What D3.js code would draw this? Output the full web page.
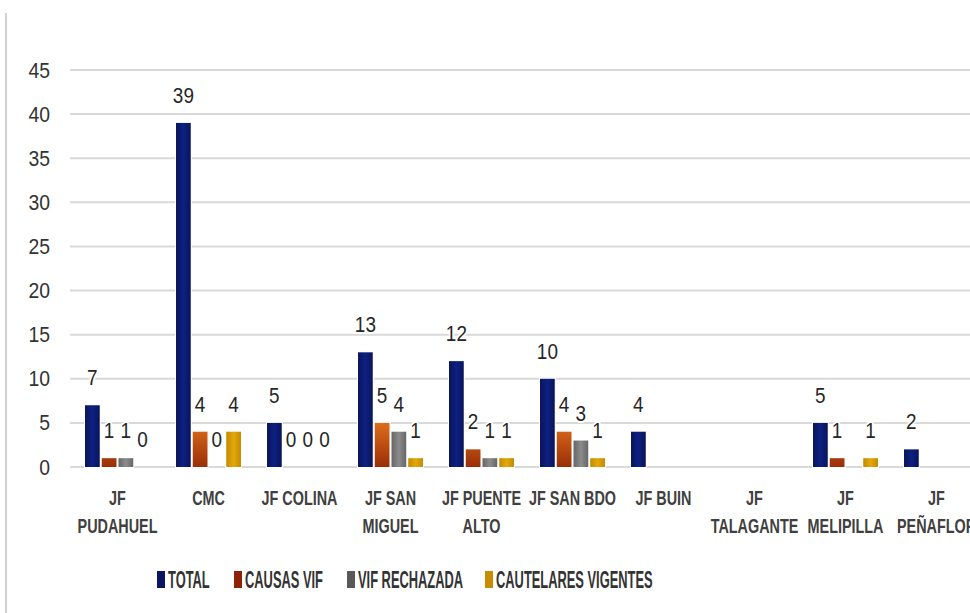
<!DOCTYPE html>
<html>
<head>
<meta charset="utf-8">
<script src="https://cdn.jsdelivr.net/npm/d3@7"></script>
<style>
  body { margin: 0; background: #fff; }
  svg { display: block; }
</style>
</head>
<body>
<script>
// categories (the last one is cut off by the frame on the right)
const categories = ["JF PUDAHUEL", "CMC", "JF COLINA", "JF SAN MIGUEL", "JF PUENTE ALTO",
  "JF SAN BDO", "JF BUIN", "JF TALAGANTE", "JF MELIPILLA", "JF PEÑAFLOR"];
// how each category label wraps
const categoryLines = [["JF", "PUDAHUEL"], ["CMC"], ["JF COLINA"], ["JF SAN", "MIGUEL"], ["JF PUENTE", "ALTO"],
  ["JF SAN BDO"], ["JF BUIN"], ["JF", "TALAGANTE"], ["JF", "MELIPILLA"], ["JF", "PEÑAFLOR"]];

const seriesNames = ["TOTAL", "CAUSAS VIF", "VIF RECHAZADA", "CAUTELARES VIGENTES"];
const total       = [7, 39, 5, 13, 12, 10, 4, null, 5, 2];
const causasVif   = [1, 4, 0, 5, 2, 4, null, null, 1, null];
const vifRechazada= [1, 0, 0, 4, 1, 3, null, null, null, null];
const cautelares  = [0, 4, 0, 1, 1, 1, null, null, 1, null];
const yTicks = [0, 5, 10, 15, 20, 25, 30, 35, 40, 45];

const seriesValues = [total, causasVif, vifRechazada, cautelares];
const fills = ["url(#gTotal)", "url(#gCausas)", "url(#gRech)", "url(#gCaut)"];
const legendColors = ["#0c1660", "#8e2208", "#595959", "#c98c00"];

const width = 970, height = 613;
const font = "'Liberation Sans', Arial, sans-serif";
const svg = d3.select("body").append("svg")
    .attr("width", width)
    .attr("height", height)
    .style("font-family", font);

// gradients, a bit like the office style bars
const defs = svg.append("defs");
function hGrad(id, edge, mid) {
  const g = defs.append("linearGradient").attr("id", id)
      .attr("x1", 0).attr("x2", 1).attr("y1", 0).attr("y2", 0);
  g.append("stop").attr("offset", "0%").attr("stop-color", edge);
  g.append("stop").attr("offset", "50%").attr("stop-color", mid);
  g.append("stop").attr("offset", "100%").attr("stop-color", edge);
}
hGrad("gTotal", "#0a1458", "#0d2183");
hGrad("gRech", "#666", "#8c8c8c");
hGrad("gCaut", "#c48a00", "#e2a80a");
const gc = defs.append("linearGradient").attr("id", "gCausas")
    .attr("gradientUnits", "userSpaceOnUse")
    .attr("x1", 0).attr("x2", 0).attr("y1", 420).attr("y2", 467);
gc.append("stop").attr("offset", "0%").attr("stop-color", "#e2721c");
gc.append("stop").attr("offset", "100%").attr("stop-color", "#9a2e08");

// frame line on the left
svg.append("line")
    .attr("x1", 6).attr("x2", 6).attr("y1", 13).attr("y2", height)
    .attr("stroke", "#d0d0d0").attr("stroke-width", 2);

const y = d3.scaleLinear().domain([0, 45]).range([467, 70]);
const x0 = d3.scaleBand().domain(categories).range([72, 982])
    .paddingInner(0.286).paddingOuter(0.143);
const x1 = d3.scaleBand().domain(seriesNames).range([0, x0.bandwidth()]).paddingInner(0.12);

// gridlines
svg.append("g")
  .selectAll("line")
  .data(yTicks)
  .join("line")
    .attr("x1", 70).attr("x2", width)
    .attr("y1", d => y(d)).attr("y2", d => y(d))
    .attr("stroke", "#d9d9d9")
    .attr("stroke-width", 2);

// y axis labels (the font in the picture is condensed, so squeeze it)
const yAxis = svg.append("g")
    .attr("transform", "translate(50,0)")
    .call(d3.axisLeft(y).tickValues(yTicks).tickSize(0).tickPadding(0));
yAxis.select(".domain").remove();
yAxis.selectAll("text")
    .attr("font-size", 22)
    .attr("font-family", font)
    .attr("fill", "#333")
    .attr("transform", "scale(0.88,1)");

// bars
const rows = [];
categories.forEach((c, i) => {
  seriesNames.forEach((s, j) => {
    const v = seriesValues[j][i];
    if (v !== null) rows.push({ cat: c, series: s, j, value: v });
  });
});

svg.append("g")
  .selectAll("rect")
  .data(rows.filter(d => d.value > 0))
  .join("rect")
    .attr("x", d => x0(d.cat) + x1(d.series))
    .attr("y", d => y(d.value))
    .attr("width", x1.bandwidth())
    .attr("height", d => y(0) - y(d.value))
    .attr("fill", d => fills[d.j])
    .attr("stroke", "#fff")
    .attr("stroke-width", 2)
    .attr("paint-order", "stroke");

// value labels
svg.append("g")
  .selectAll("text")
  .data(rows)
  .join("text")
    .attr("transform", d => `translate(${x0(d.cat) + x1(d.series) + x1.bandwidth() / 2},${y(d.value) - 20}) scale(0.86,1)`)
    .attr("text-anchor", "middle")
    .attr("font-size", 22)
    .attr("fill", "#262626")
    .attr("stroke", "#fff")
    .attr("stroke-width", 4)
    .attr("paint-order", "stroke")
    .text(d => d.value);

// category labels
const catG = svg.append("g")
  .selectAll("text")
  .data(categories)
  .join("text")
    .attr("text-anchor", "middle")
    .attr("font-size", 20)
    .attr("font-weight", "bold")
    .attr("fill", "#404040")
    .attr("transform", d => `translate(${x0(d) + x0.bandwidth() / 2},0) scale(0.72,1)`);
catG.selectAll("tspan")
  .data((d, i) => categoryLines[i])
  .join("tspan")
    .attr("x", 0)
    .attr("y", (d, k) => 505 + k * 28)
    .text(d => d);

// legend
const legendX = [157, 234, 347, 485];
const legend = svg.append("g")
  .selectAll("g")
  .data(seriesNames)
  .join("g")
    .attr("transform", (d, i) => `translate(${legendX[i]},0)`);
legend.append("rect")
    .attr("x", 0).attr("y", 571)
    .attr("width", 8).attr("height", 17)
    .attr("fill", (d, i) => legendColors[i]);
legend.append("text")
    .attr("transform", "translate(11,588) scale(0.56,1)")
    .attr("font-size", 23)
    .attr("font-weight", "bold")
    .attr("fill", "#333")
    .text(d => d);
</script>
</body>
</html>
